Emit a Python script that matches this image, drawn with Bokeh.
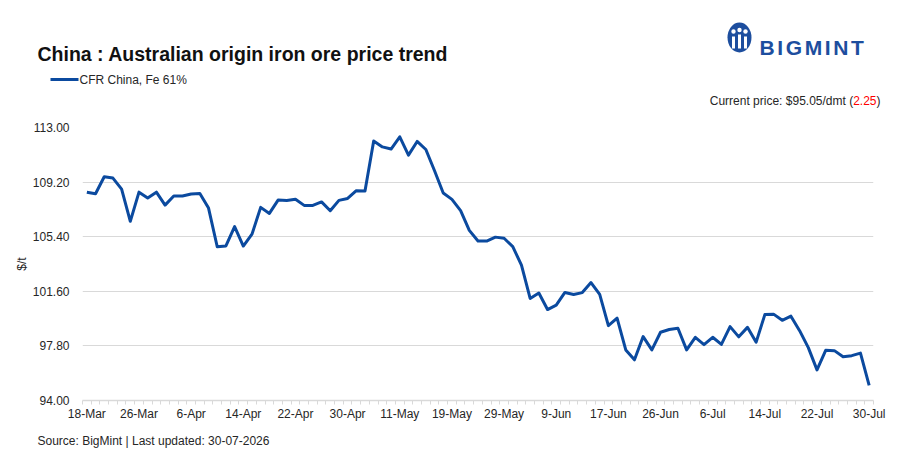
from bokeh.plotting import figure
from bokeh.layouts import column, row
from bokeh.models import Range1d, FixedTicker, Label, NumeralTickFormatter
from bokeh.embed import file_html
from bokeh.resources import INLINE

# ---------------- data ----------------
title_text = "China : Australian origin iron ore price trend"
series_name = "CFR China, Fe 61%"
source_text = "Source: BigMint | Last updated: 30-07-2026"
brand = "BIGMINT"
unit_label = "$/t"
price_unit = "dmt"

prices = [
    108.50, 108.39, 109.57, 109.48, 108.71, 106.47, 108.50, 108.09, 108.50, 107.60,
    108.23, 108.23, 108.37, 108.41, 107.39, 104.70, 104.76, 106.10, 104.75, 105.58,
    107.44, 107.02, 107.95, 107.92, 108.00, 107.58, 107.58, 107.82, 107.21, 107.93,
    108.06, 108.60, 108.58, 112.06, 111.65, 111.50, 112.35, 111.08, 112.03, 111.47,
    109.99, 108.44, 108.00, 107.22, 105.84, 105.10, 105.10, 105.37, 105.29, 104.71,
    103.42, 101.10, 101.48, 100.33, 100.64, 101.52, 101.38, 101.51, 102.21, 101.38,
    99.21, 99.73, 97.52, 96.83, 98.45, 97.52, 98.75, 98.94, 99.03, 97.52,
    98.40, 97.89, 98.40, 97.90, 99.14, 98.43, 99.09, 98.06, 99.98, 100.01,
    99.58, 99.87, 98.86, 97.68, 96.13, 97.49, 97.47, 97.05, 97.12, 97.30,
    95.05,
]
tick_labels = ["18-Mar", "26-Mar", "6-Apr", "14-Apr", "22-Apr", "30-Apr", "11-May", "19-May",
               "29-May", "9-Jun", "17-Jun", "26-Jun", "6-Jul", "14-Jul", "22-Jul", "30-Jul"]
y_ticks = [94.00, 97.80, 101.60, 105.40, 109.20, 113.00]

# ---------------- layout / style ----------------
W, H = 906, 453
HEAD_H = 117          # header band (title, legend, current price, logo)
FL, FT, FW, FH, FB = 82, 10, 791, 273, 25
MAIN_H = FT + FH + FB
FOOT_H = H - HEAD_H - MAIN_H
BLUE = "#0b4a9f"
LOGO = "#1d4e9e"
GRID = "#d9d9d9"
TXT = "#262626"
FONT = "Liberation Sans"


def band(height, top):
    f = figure(width=W, height=height, x_range=Range1d(0, W), y_range=Range1d(top + height, top),
               x_axis_type=None, y_axis_type=None, min_border=0,
               output_backend="svg", toolbar_location=None, outline_line_color=None,
               background_fill_color="white", border_fill_color="white")
    f.grid.visible = False
    return f


def add_label(fig, text, x, y, size="12px", color=TXT, style="normal", align="left", baseline="alphabetic"):
    fig.add_layout(Label(x=x, y=y, text=text, text_font=FONT, text_font_size=size,
                         text_color=color, text_font_style=style,
                         text_align=align, text_baseline=baseline))


# ---------------- main chart ----------------
n = len(prices)
xs = list(range(n))
step = (n - 1) // (len(tick_labels) - 1)
tick_pos = list(range(0, n, step))

p = figure(frame_width=FW, frame_height=FH,
           min_border_left=FL, min_border_top=FT,
           min_border_right=W - FL - FW, min_border_bottom=FB,
           x_range=Range1d(-0.5, n - 0.5), y_range=Range1d(y_ticks[0], y_ticks[-1]),
           output_backend="svg", toolbar_location=None,
           outline_line_color=None, background_fill_color="white", border_fill_color="white")

r = p.line(xs, prices, line_color=BLUE, line_width=3, line_join="round")

xa = p.xaxis[0]
xa.ticker = FixedTicker(ticks=tick_pos, minor_ticks=[i - 0.5 for i in range(n + 1)])
xa.major_label_overrides = {t: lab for t, lab in zip(tick_pos, tick_labels)}
xa.major_tick_out = 0
xa.major_tick_in = 0
xa.minor_tick_out = 4
xa.minor_tick_in = 0
xa.minor_tick_line_color = GRID
xa.axis_line_color = GRID
xa.axis_line_width = 1.5
xa.major_label_standoff = 2
xa.major_label_text_font = FONT
xa.major_label_text_font_size = "12px"
xa.major_label_text_color = TXT

ya = p.yaxis[0]
ya.ticker = FixedTicker(ticks=y_ticks)
ya.formatter = NumeralTickFormatter(format="0.00")
ya.axis_line_color = None
ya.major_tick_out = 0
ya.major_tick_in = 0
ya.minor_tick_out = 0
ya.minor_tick_in = 0
ya.major_label_standoff = 13
ya.major_label_text_font = FONT
ya.major_label_text_font_size = "12px"
ya.major_label_text_color = TXT
ya.axis_label = unit_label
ya.axis_label_text_font = FONT
ya.axis_label_text_font_size = "12px"
ya.axis_label_text_font_style = "normal"
ya.axis_label_text_color = TXT
ya.axis_label_standoff = 1

p.xgrid.grid_line_color = None
p.ygrid.ticker = FixedTicker(ticks=y_ticks)
p.ygrid.grid_line_color = GRID
p.ygrid.grid_line_width = 1

# ---------------- header ----------------
head = band(HEAD_H, 0)
add_label(head, title_text, 37, 53.5, size="19.5px", color="#111111", style="bold")

# legend key + label
head.line([50, 78], [79, 79], line_color=BLUE, line_width=3)
add_label(head, series_name, 79, 79, baseline="middle")

# current price, right aligned, change in red
last = prices[-1]
chg = prices[-2] - prices[-1]
right = 880
paren_w = 333 * 12 / 1000
chg_txt = f"{chg:.2f}"
chg_w = sum(278 if c == "." else 556 for c in chg_txt) * 12 / 1000
add_label(head, ")", right, 100.3, align="right")
add_label(head, chg_txt, right - paren_w, 100.3, color="#ff0000", align="right")
add_label(head, f"Current price: ${last:.2f}/{price_unit} (", right - paren_w - chg_w, 100.3, align="right")

# logo mark
head.ellipse(x=739, y=37, width=24, height=30, fill_color=LOGO, line_color=None)
head.rect(x=[733, 739, 745], y=[42, 41, 42], width=3, height=[12, 14, 12], fill_color="white", line_color=None)
head.circle(x=[733, 739, 745], y=[31, 29.5, 31], radius=2.2, fill_color="white", line_color=None)
bw = {"B": 722, "I": 278, "G": 778, "M": 833, "N": 722, "T": 611}
x0 = 759
for ch in brand:
    add_label(head, ch, x0, 47, size="21px", color=LOGO, style="bold")
    x0 += bw[ch] * 21 / 1000 + 2.6

# ---------------- footer ----------------
foot = band(FOOT_H, HEAD_H + MAIN_H)
add_label(foot, source_text, 37, 440.5)

layout = column(row(head), row(p), row(foot), spacing=0)
open("out.html", "w").write(file_html(layout, INLINE))
